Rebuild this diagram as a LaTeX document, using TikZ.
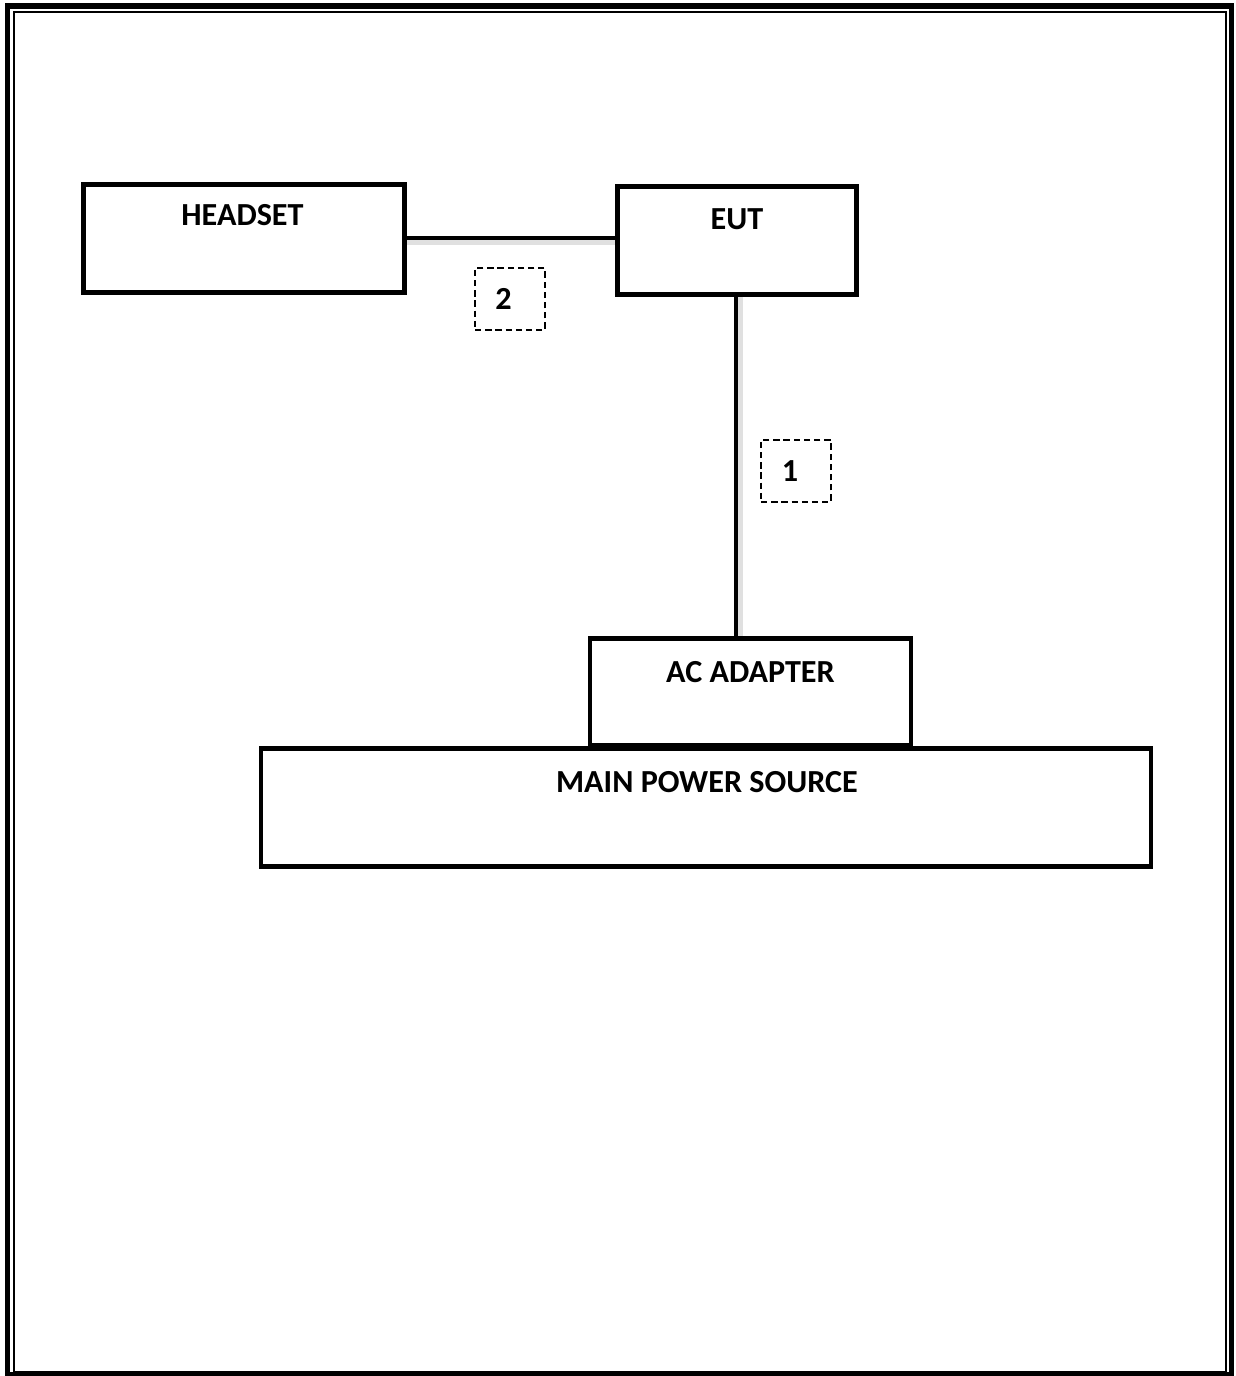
\documentclass[tikz,border=0pt]{standalone}
\usepackage{fontspec}
\setmainfont{Carlito}
\usetikzlibrary{positioning, calc}

\begin{document}
\begin{tikzpicture}[x=0.02cm, y=-0.02cm, font=\bfseries\fontsize{18.3}{21}\selectfont,
  unit/.style={draw, line width=2.6pt, minimum width=#1, inner sep=0pt},
  lab/.style={anchor=center, inner sep=0pt},
  cable/.style={draw=black!12, line width=3.5pt},
  wire/.style={draw, line width=2.5pt},
  tag/.style={draw, dash pattern=on 3.6pt off 2.2pt, line width=0.8pt, minimum width=1.4cm, minimum height=1.24cm, inner sep=0pt}
]
  \useasboundingbox (0,0) rectangle (1236,1376);
  % page frame
  \draw[line width=2.9pt] (7.5,6) rectangle (1231.5,1375);
  \draw[line width=1.1pt] (14,12) rectangle (1226,1372);

  \node[unit=6.42cm, minimum height=2.16cm, label={[lab, yshift=-0.66cm, xshift=-0.03cm]north:HEADSET}] (headset) at (244,238.5) {};
  \node[unit=4.78cm, minimum height=2.16cm, label={[lab, yshift=-0.7cm]north:EUT}] (eut) at (737,240.5) {};
  \node[unit=6.42cm, minimum height=2.14cm, label={[lab, yshift=-0.72cm]north:AC ADAPTER}] (adapter) at (750.5,692) {};
  \node[unit=17.8cm, minimum height=2.36cm, label={[lab, yshift=-0.72cm, xshift=0.02cm]north:MAIN POWER SOURCE}] (mains) at (706,807.5) {};

  \node[tag, label={[lab, xshift=-0.13cm]center:2}] (c2) at (510,299) {};
  \node[tag, label={[lab, xshift=-0.12cm]center:1}] (c1) at (796,471) {};

  % cables with a light shadow
  \draw[cable] ([yshift=-0.07cm]headset.east |- 0,238) -- ([yshift=-0.07cm]eut.west |- 0,238);
  \draw[cable] ([xshift=0.07cm]eut.south -| 736,0) -- ([xshift=0.07cm]adapter.north -| 736,0);
  \draw[wire] (headset.east |- 0,238) -- (eut.west |- 0,238);
  \draw[wire] (eut.south -| 736,0) -- (adapter.north -| 736,0);
\end{tikzpicture}
\end{document}
